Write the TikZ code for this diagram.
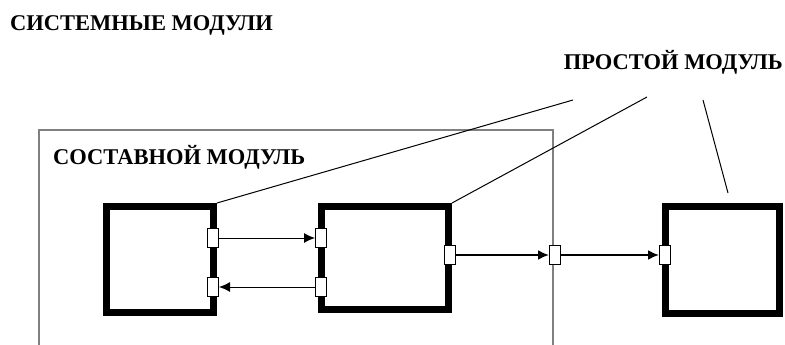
\documentclass[tikz,border=0pt]{standalone}
\usepackage{fontspec}
\setmainfont{Liberation Serif}
\usetikzlibrary{arrows.meta}
\begin{document}
\begin{tikzpicture}[x=1pt,y=-1pt,
    modul/.style={draw, line width=7pt, inner sep=0pt},
    port/.style={draw, fill=white, line width=1pt, minimum width=11pt, minimum height=19pt, inner sep=0pt},
    link/.style={line width=1pt, -{Latex[length=11pt,width=10pt]}},
    leader/.style={line width=1pt},
    caption/.style={font=\fontsize{22.5}{22.5}\selectfont\bfseries, inner sep=0pt}
]
\useasboundingbox (0,0) rectangle (785,345);
% titles
\node[caption, anchor=west] (sys) at (10,25) {СИСТЕМНЫЕ МОДУЛИ};
\node[caption, anchor=east] (simple) at (783,62) {ПРОСТОЙ МОДУЛЬ};
% composite module
\draw[gray, line width=1.5pt] (39,346) -- (39,130) -- (553,130) -- (553,346);
\node[caption, anchor=west] (comp) at (53,157) {СОСТАВНОЙ МОДУЛЬ};
% simple modules
\node[modul, minimum width=107pt, minimum height=106pt] (m1) at (160,259.5) {};
\node[modul, minimum width=127pt, minimum height=103pt] (m2) at (385,258) {};
\node[modul, minimum width=114pt, minimum height=107pt] (m3) at (722.5,260) {};
% ports
\node[port] (m1a) at (213,238) {};
\node[port] (m1b) at (213,287) {};
\node[port] (m2a) at (321,238) {};
\node[port] (m2b) at (321,287) {};
\node[port] (m2c) at (450,255) {};
\node[port] (cp) at (555,255) {};
\node[port] (m3a) at (665,255) {};
% connections
\draw[link] (m1a) -- (m2a);
\draw[link] (m2b) -- (m1b);
\draw[link, line width=2pt] (m2c) -- (cp);
\draw[link, line width=2pt] (cp) -- (m3a);
% leaders
\coordinate (t1) at (573,100);
\coordinate (t2) at (647,97);
\coordinate (t3) at (703,100);
\coordinate (e3) at (728,193);
\draw[leader] (t1) -- (m1.north east);
\draw[leader] (t2) -- (m2.north east);
\draw[leader] (t3) -- (e3);
\end{tikzpicture}
\end{document}
